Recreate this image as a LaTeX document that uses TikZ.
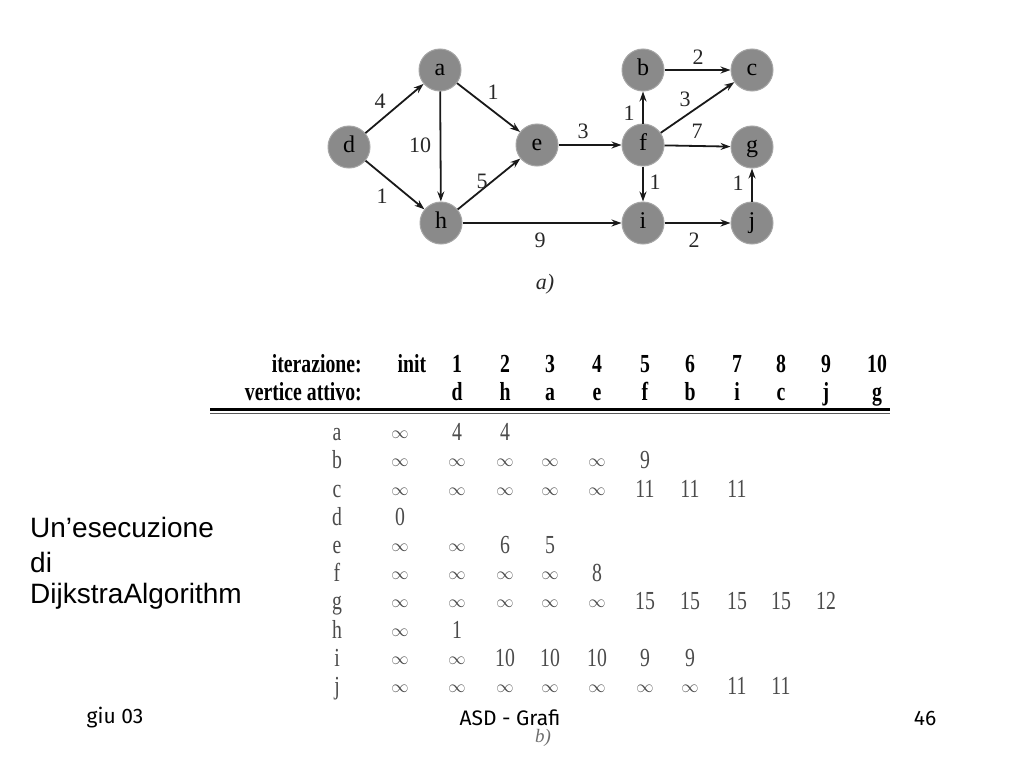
\documentclass[tikz,border=0pt]{standalone}
\usepackage{fontspec}
\setmainfont{Liberation Serif}
\newfontfamily\condf[FakeStretch=0.76]{Liberation Serif}
\newfontfamily\sansf{Liberation Sans}
\newfontfamily\footf{Fira Sans}
\usetikzlibrary{arrows.meta}
\newcommand\I{\raisebox{1.5pt}{\fontsize{17}{17}\selectfont$\infty$}}
\newcommand\trow[3]{%
  \node[cell] (r#2) at (337,#1+8) {#2};
  \foreach \v [count=\k] in {#3} {%
    \pgfmathsetmacro\xx{{400,457,505,550,597,645,690,737,781,826}[\k-1]}
    \node[cell] (c#2\k) at (\xx,#1+8) {\v};}}
\begin{document}
\begin{tikzpicture}[x=1pt,y=-1pt,
  vert/.style={circle,fill={rgb,255:red,138;green,138;blue,138},draw={rgb,255:red,165;green,165;blue,165},line width=1pt,
    minimum size=42pt,inner sep=0pt,text height=15pt,text depth=4pt,font=\fontsize{24}{24}\selectfont},
  edge/.style={line width=1.8pt,draw={rgb,255:red,25;green,25;blue,25},-{Stealth[length=10pt,width=7pt]}},
  wt/.style={font=\fontsize{22}{22}\selectfont,text={rgb,255:red,40;green,40;blue,40},inner sep=0pt,text height=15pt,text depth=0pt},
  hdr/.style={font=\condf\bfseries\fontsize{26}{26}\selectfont,inner sep=0pt,anchor=base},
  cell/.style={font=\condf\fontsize{26}{26}\selectfont,text={rgb,255:red,75;green,75;blue,75},inner sep=0pt,anchor=base},
  side/.style={font=\sansf\fontsize{28}{28}\selectfont,anchor=west,inner sep=0pt},
  foot/.style={font=\footf\fontsize{21}{21}\selectfont,inner sep=0pt}]
\useasboundingbox (0,0) rectangle (1024,768);
\fill[white] (0,0) rectangle (1024,768);
% graph
\node[vert] (a) at (440,70) {a};
\node[vert] (d) at (349,147) {d};
\node[vert] (e) at (537,145) {e};
\node[vert] (h) at (441,223) {h};
\node[vert] (f) at (643,145) {f};
\node[vert] (b) at (643,70) {b};
\node[vert] (c) at (752,70) {c};
\node[vert] (g) at (752,147) {g};
\node[vert] (i) at (643,223) {i};
\node[vert] (j) at (752,223) {j};
\draw[edge] (d) -- (a);
\draw[edge] (d) -- (h);
\draw[edge] (a) -- (h);
\draw[edge] (a) -- (e);
\draw[edge] (h) -- (e);
\draw[edge] (e) -- (f);
\draw[edge] (h) -- (i);
\draw[edge] (f) -- (b);
\draw[edge] (f) -- (c);
\draw[edge] (f) -- (g);
\draw[edge] (f) -- (i);
\draw[edge] (b) -- (c);
\draw[edge] (i) -- (j);
\draw[edge] (j) -- (g);
\node[wt] (w1) at (380,101) {4};
\node[wt] (w2) at (382,196) {1};
\node[wt] (w3) at (420,145) {10};
\node[wt] (w4) at (493,92) {1};
\node[wt] (w5) at (482,181) {5};
\node[wt] (w6) at (583,131) {3};
\node[wt] (w7) at (540,240) {9};
\node[wt] (w8) at (629,113) {1};
\node[wt] (w9) at (685,99) {3};
\node[wt] (w10) at (697,131) {7};
\node[wt] (w11) at (698,57) {2};
\node[wt] (w12) at (655,182) {1};
\node[wt] (w13) at (694,240) {2};
\node[wt] (w14) at (738,183) {1};
\node[wt,font=\itshape\fontsize{22}{22}\selectfont] (capa) at (545,282) {a)};
% table header
\node[hdr,anchor=base east] (h1) at (362,372) {iterazione:};
\node[hdr,anchor=base east] (h2) at (362,400) {vertice attivo:};
\node[hdr] (hinit) at (412,372) {init};
\foreach \n/\v [count=\k] in {1/d,2/h,3/a,4/e,5/f,6/b,7/i,8/c,9/j,10/g} {
  \pgfmathsetmacro\xx{{457,505,550,597,645,690,737,781,826,877}[\k-1]}
  \node[hdr] (it\k) at (\xx,372) {\n};
  \node[hdr] (va\k) at (\xx,400) {\v};
}
\draw[line width=2.4pt] (210,409.5) -- (890,409.5);
\draw[line width=0.8pt,draw={rgb,255:red,90;green,90;blue,90}] (210,413) -- (890,413);
% table body
\trow{432}{a}{\I,4,4}
\trow{460}{b}{\I,\I,\I,\I,\I,9}
\trow{489}{c}{\I,\I,\I,\I,\I,11,11,11}
\trow{517}{d}{0}
\trow{545}{e}{\I,\I,6,5}
\trow{573}{f}{\I,\I,\I,\I,8}
\trow{601}{g}{\I,\I,\I,\I,\I,15,15,15,15,12}
\trow{630}{h}{\I,1}
\trow{658}{i}{\I,\I,10,10,10,9,9}
\trow{686}{j}{\I,\I,\I,\I,\I,\I,\I,11,11}
\node[wt,font=\itshape\fontsize{19}{19}\selectfont,text={rgb,255:red,110;green,110;blue,110}] (capb) at (543,735) {b)};
% side text
\node[side] (s1) at (30,527) {Un’esecuzione};
\node[side] (s2) at (30,562) {di};
\node[side] (s3) at (30,596) {DijkstraAlgorithm};
% footer
\node[foot] (f1) at (115,718) {giu 03};
\node[foot] (f2) at (510,718) {ASD - Grafi};
\node[foot] (f3) at (925,718) {46};
\end{tikzpicture}
\end{document}
